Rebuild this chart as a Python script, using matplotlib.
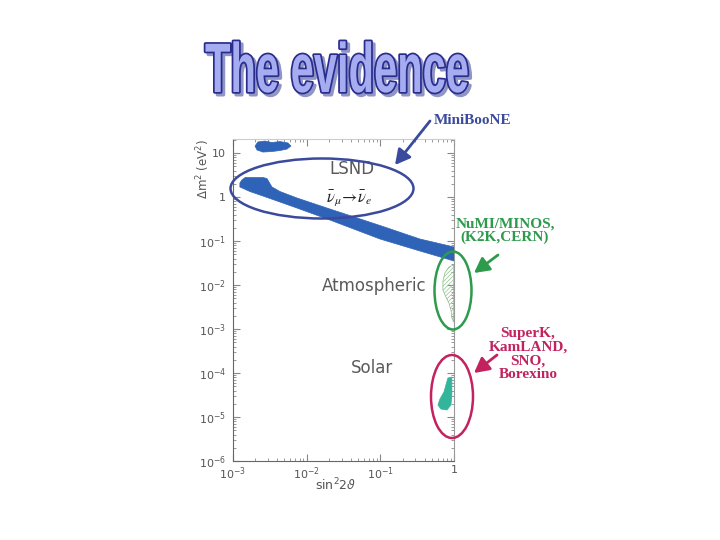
import matplotlib
matplotlib.use('Agg')
import matplotlib.pyplot as plt
import matplotlib.patheffects as pe
from matplotlib.transforms import Affine2D
from matplotlib.patches import Ellipse, FancyArrowPatch
import numpy as np

# ---------------- data ----------------
title_text = "The evidence"
x_ticks = [1e-3, 1e-2, 1e-1, 1]
x_tick_labels = [r'10$^{-3}$', r'10$^{-2}$', r'10$^{-1}$', '1']
y_ticks = [1e-6, 1e-5, 1e-4, 1e-3, 1e-2, 1e-1, 1, 10]
y_tick_labels = [r'10$^{-6}$', r'10$^{-5}$', r'10$^{-4}$', r'10$^{-3}$',
                 r'10$^{-2}$', r'10$^{-1}$', '1', '10']

# LSND allowed band (upper edge left->right, lower edge right->left)
lsnd_upper_x = [0.00124, 0.00132, 0.00146, 0.00255, 0.00289, 0.00338, 0.00435, 0.00738, 0.0207, 0.099, 0.344, 1.0]
lsnd_upper_y = [2.08, 2.43, 2.77, 2.77, 2.63, 1.69, 1.33, 0.949, 0.533, 0.225, 0.111, 0.0731]
lsnd_lower_x = [1.0, 0.344, 0.099, 0.0207, 0.00738, 0.00255, 0.00170, 0.00124]
lsnd_lower_y = [0.0351, 0.0593, 0.111, 0.300, 0.562, 1.054, 1.33, 1.69]

# small island at high dm^2
island_x = [0.00199, 0.00218, 0.00272, 0.00338, 0.00435, 0.00557, 0.00612, 0.00540, 0.00435, 0.00338, 0.00255, 0.00212]
island_y = [14.4, 17.8, 18.7, 17.3, 18.2, 16.9, 14.4, 12.3, 11.4, 10.8, 10.5, 11.7]

# atmospheric region (hatched)
atm_x = [0.99, 0.853, 0.752, 0.707, 0.707, 0.776, 0.853, 0.908, 0.936, 0.99]
atm_y = [0.0285, 0.0256, 0.0187, 0.0123, 0.0077, 0.00534, 0.0039, 0.0027, 0.00178, 0.00144]

# solar region
solar_x = [0.826, 0.936, 0.936, 0.908, 0.801, 0.664, 0.605, 0.644, 0.730, 0.776]
solar_y = [7.69e-5, 8.11e-5, 3.16e-5, 1.87e-5, 1.44e-5, 1.52e-5, 1.87e-5, 2.56e-5, 3.70e-5, 5.34e-5]

# ---------------- figure ----------------
W, H = 720, 540
fig = plt.figure(figsize=(7.2, 5.4), dpi=100)
fig.patch.set_facecolor('white')

def fx(px):
    return px / W

def fy(py):
    return 1 - py / H

ax = fig.add_axes([fx(233), fy(461), 221 / W, 322 / H])
ax.set_xscale('log')
ax.set_yscale('log')
ax.set_xlim(1e-3, 1)
ax.set_ylim(1e-6, 20.8)

band_col = '#2f63b8'
ax.fill(lsnd_upper_x + lsnd_lower_x, lsnd_upper_y + lsnd_lower_y, color=band_col, lw=0.5, zorder=3)
ax.fill(island_x, island_y, color=band_col, lw=0.5, zorder=3)
plt.rcParams['hatch.linewidth'] = 0.45
ax.fill(atm_x, atm_y, facecolor='none', edgecolor='#84bc84', hatch='////////', lw=0.5, zorder=3)
ax.fill(solar_x, solar_y, color='#33b59c', lw=0.5, zorder=3)

ax.set_xticks(x_ticks)
ax.set_xticklabels(x_tick_labels)
ax.set_yticks(y_ticks)
ax.set_yticklabels(y_tick_labels)
ax.tick_params(which='both', direction='in', top=True, right=True, colors='#888888',
               labelcolor='#555555', labelsize=8)
ax.tick_params(which='major', length=5)
ax.tick_params(which='minor', length=2.5)
ax.tick_params(axis='x', pad=3)
ax.tick_params(axis='y', pad=5)
ax.spines['left'].set_color('#666666')
ax.spines['bottom'].set_color('#666666')
ax.spines['right'].set_color('#999999')
ax.spines['top'].set_color('#cccccc')

ax.set_ylabel(r'$\Delta$m$^2$ (eV$^2$)', fontsize=8.5, color='#555555')
ax.yaxis.set_label_coords((203 - 233) / 221, (461 - 139) / 322)
ax.yaxis.label.set(ha='center', va='top', rotation_mode='default')
ax.set_xlabel(r'sin$^2$2$\vartheta$', fontsize=9, color='#555555')
ax.xaxis.set_label_coords((336 - 233) / 221, (461 - 477) / 322)
ax.xaxis.label.set(ha='center', va='top')

# region labels
gray = '#5a5a5a'
ax.text(fx(352), fy(169), 'LSND', transform=fig.transFigure, ha='center', va='center',
        fontsize=12, color=gray)
ax.text(fx(349), fy(198), r'$\bar{\nu}_\mu\!\rightarrow\!\bar{\nu}_e$', transform=fig.transFigure,
        ha='center', va='center', fontsize=12, color='#222222', math_fontfamily='stix')
ax.text(fx(374), fy(286), 'Atmospheric', transform=fig.transFigure, ha='center', va='center',
        fontsize=12, color=gray)
ax.text(fx(372), fy(368), 'Solar', transform=fig.transFigure, ha='center', va='center',
        fontsize=12, color=gray)

# ---------------- annotations ----------------
blue = '#3b4a9c'
green = '#2e9a4c'
mag = '#c2225e'

for (cx, cy, w, h, c) in [(322, 188.5, 183, 60, blue), (453, 290.5, 37, 78, green),
                          (452, 396.5, 42, 83, mag)]:
    fig.add_artist(Ellipse((fx(cx), fy(cy)), w / W, h / H, transform=fig.transFigure,
                           facecolor='none', edgecolor=c, lw=1.8, zorder=5))

for (a, b, c) in [((430, 121), (395, 165), blue), ((498, 255), (474, 273), green),
                  ((497, 355), (474, 373), mag)]:
    fig.add_artist(FancyArrowPatch((fx(a[0]), fy(a[1])), (fx(b[0]), fy(b[1])),
                                   transform=fig.transFigure,
                                   arrowstyle='-|>,head_length=0.75,head_width=0.4',
                                   mutation_scale=12, color=c, lw=2, shrinkA=0, shrinkB=0,
                                   zorder=6))

serif = 'Liberation Serif'
fig.text(fx(434), fy(121), 'MiniBooNE', ha='left', va='center', fontsize=11,
         fontweight='bold', family=serif, color=blue)
fig.text(fx(505), fy(231), 'NuMI/MINOS,\n(K2K,CERN)', ha='center', va='center', fontsize=11,
         fontweight='bold', family=serif, color=green, linespacing=1.05)
fig.text(fx(528), fy(354), 'SuperK,\nKamLAND,\nSNO,\nBorexino', ha='center', va='center',
         fontsize=11, fontweight='bold', family=serif, color=mag, linespacing=1.05)

# ---------------- title ----------------
class Stretched(pe.AbstractPathEffect):
    def __init__(self, sx, sy, effects):
        super().__init__()
        self.sx, self.sy, self.effects = sx, sy, effects

    def draw_path(self, renderer, gc, tpath, affine, rgbFace=None):
        a = Affine2D().scale(self.sx, self.sy) + affine
        for e in self.effects:
            e.draw_path(renderer, gc, tpath, a, rgbFace)

shadow = '#9096c4'
title_fx = [Stretched(1.0, 1.68, [
    pe.SimplePatchShadow(offset=(2, -2), shadow_rgbFace=shadow, alpha=1.0),
    pe.Stroke(offset=(2, -2), linewidth=2.5, foreground=shadow),
    pe.Stroke(linewidth=2.5, foreground='#2a2c8e'),
    pe.Normal()])]
fig.text(fx(205), fy(92), title_text, ha='left', va='baseline', fontsize=30,
         fontweight='bold', family='Liberation Sans', color='#a6acf0', path_effects=title_fx)

fig.savefig('out.png', dpi=100)
